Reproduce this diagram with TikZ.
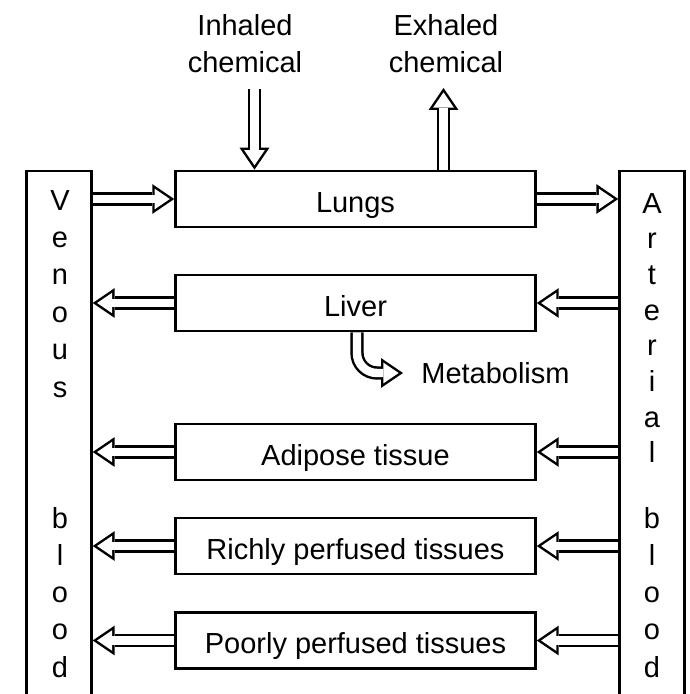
\documentclass[tikz,border=0pt]{standalone}
\usepackage{fontspec}
\setmainfont{Liberation Sans}
\usetikzlibrary{arrows.meta, positioning, calc}

\begin{document}
\begin{tikzpicture}[
    x=0.02cm, y=-0.02cm,
    font=\fontsize{16.5}{21}\selectfont,
    organ/.style={draw, line width=1.5pt, minimum width=7.2cm, minimum height=1.12cm,
                  inner sep=0pt, text height=14.8pt, text depth=0pt},
    pool/.style={draw, line width=1.4pt, minimum width=1.3cm, minimum height=10.8cm},
    letter/.style={anchor=base, inner sep=0pt},
    flow/.style={draw=black, line width=7.6pt,
                 -{Triangle[length=12.5pt, width=17pt, line width=0pt]},
                 postaction={draw=white, line width=4.8pt, shorten >=2.5pt,
                             -{Triangle[length=8.6pt, width=11.7pt, line width=0pt]}}}
  ]
    \clip (0,0) rectangle (690,694);

    % blood pools
    \node[pool] (venous)   at (59,441)  {};
    \node[pool] (arterial) at (652,441) {};
    \foreach \c [count=\i from 0] in {V,e,n,o,u,s}
      \node[letter] (ven\i) at (60,210+37.4*\i) {\c};
    \foreach \c [count=\i from 0] in {b,l,o,o,d}
      \node[letter] (vbl\i) at (60,528+37.3*\i) {\c};
    \foreach \c [count=\i from 0] in {A,r,t,e,r,i,a,l}
      \node[letter] (art\i) at (652,213+35.7*\i) {\c};
    \foreach \c [count=\i from 0] in {b,l,o,o,d}
      \node[letter] (abl\i) at (652,528+37.3*\i) {\c};

    % organs
    \node[organ] (lungs)   at (355.5,199)   {Lungs};
    \node[organ] (liver)   at (355.5,303)   {Liver};
    \node[organ] (adipose) at (355.5,452)   {Adipose tissue};
    \node[organ] (rich)    at (355.5,546)   {Richly perfused tissues};
    \node[organ] (poor)    at (355.5,640.5) {Poorly perfused tissues};

    % in and out
    \node[align=center] (inhaled) at (245,44) {Inhaled\\chemical};
    \node[align=center] (exhaled) at (446,44) {Exhaled\\chemical};
    \coordinate (intop)  at (254.5,89);
    \coordinate (exhtop) at (443.5,88);
    \draw[flow] (intop) -- (intop |- lungs.north);
    \draw[flow] (exhtop |- lungs.north) -- (exhtop);

    \node[anchor=west, inner sep=0pt] (metab) at (421,373) {Metabolism};
    \coordinate (mtip) at (403,373);
    \draw[flow, rounded corners=0.4cm] ([xshift=0.03cm]liver.south) |- (mtip);

    % blood flow
    \draw[flow] (venous.east |- lungs.west) -- (lungs.west);
    \draw[flow] (lungs.east) -- (arterial.west |- lungs.east);
    \foreach \o in {liver, adipose, rich, poor} {
      \draw[flow] (arterial.west |- \o.east) -- (\o.east);
      \draw[flow] (\o.west) -- (venous.east |- \o.west);
    }
\end{tikzpicture}
\end{document}
